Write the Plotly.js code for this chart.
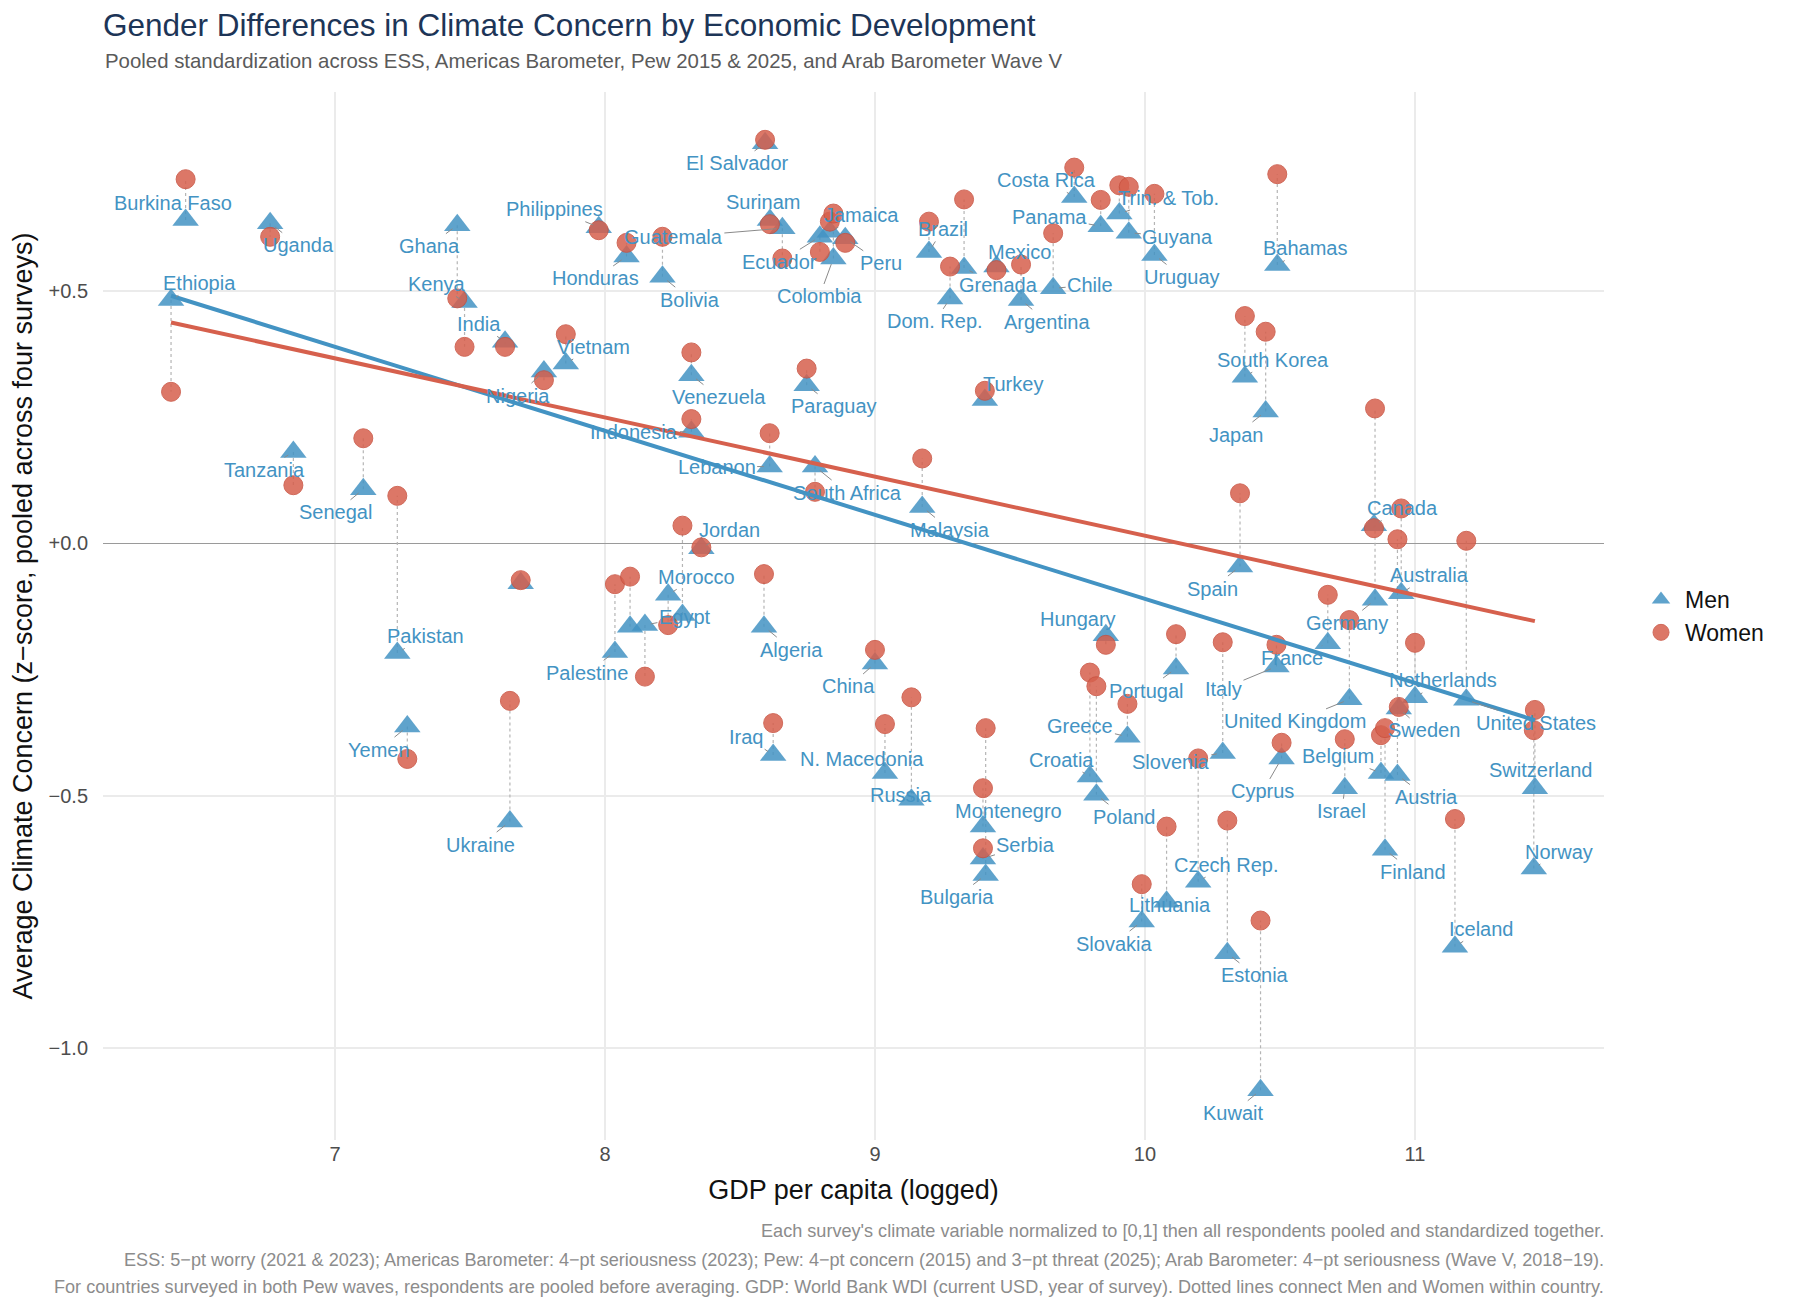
<!DOCTYPE html>
<html>
<head>
<meta charset="utf-8">
<script src="https://cdn.plot.ly/plotly-3.0.1.min.js"></script>
<style>
  html, body { margin: 0; padding: 0; background: #fff; }
  #chart { width: 1800px; height: 1309px; }
</style>
</head>
<body>
<div id="chart"></div>
<script>
// one entry per country: logged GDP per capita, pooled z-score for men and women
const countries = [
  "Ethiopia", "Burkina Faso", "Uganda", "Tanzania", "Senegal", "Pakistan", "Yemen", "Ghana",
  "Kenya", "India", "Ukraine", "Mauritania", "Nigeria", "Vietnam", "Philippines", "Palestine",
  "Honduras", "Tunisia", "Egypt", "Bolivia", "Morocco", "Libya", "Indonesia", "Venezuela",
  "Jordan", "Algeria", "El Salvador", "Lebanon", "Surinam", "Iraq", "Guatemala", "Paraguay",
  "South Africa", "Ecuador", "Jamaica", "Colombia", "Peru", "China", "N. Macedonia", "Russia",
  "Malaysia", "Brazil", "Dom. Rep.", "Grenada", "Montenegro", "Serbia", "Bulgaria", "Turkey",
  "Mexico", "Argentina", "Chile", "Costa Rica", "Croatia", "Poland", "Panama", "Hungary",
  "Trin. & Tob.", "Greece", "Guyana", "Slovakia", "Uruguay", "Lithuania", "Portugal", "Czech Rep.",
  "Slovenia", "Estonia", "Spain", "South Korea", "Kuwait", "Japan", "Italy", "Bahamas",
  "Cyprus", "France", "Israel", "United Kingdom", "Canada", "Germany", "Belgium", "Finland",
  "Sweden", "Austria", "Australia", "Netherlands", "Iceland", "United States", "Switzerland", "Norway",
];
const gdp = [
  6.393, 6.447, 6.760, 6.846, 7.105, 7.231, 7.268, 7.453,
  7.480, 7.630, 7.648, 7.688, 7.774, 7.855, 7.977, 8.037,
  8.080, 8.093, 8.148, 8.213, 8.234, 8.287, 8.320, 8.320,
  8.357, 8.589, 8.593, 8.610, 8.611, 8.623, 8.657, 8.747,
  8.778, 8.796, 8.833, 8.846, 8.890, 9.000, 9.037, 9.135,
  9.175, 9.200, 9.278, 9.330, 9.400, 9.400, 9.410, 9.407,
  9.450, 9.541, 9.660, 9.738, 9.796, 9.820, 9.836, 9.855,
  9.905, 9.935, 9.940, 9.988, 10.035, 10.080, 10.115, 10.197,
  10.288, 10.305, 10.352, 10.370, 10.428, 10.447, 10.487, 10.490,
  10.506, 10.677, 10.740, 10.757, 10.848, 10.852, 10.874, 10.889,
  10.940, 10.935, 10.949, 11.000, 11.148, 11.190, 11.444, 11.440,
];
const menScore = [
  0.482, 0.640, 0.634, 0.181, 0.107, -0.217, -0.363, 0.630,
  0.478, 0.399, -0.551, -0.079, 0.340, 0.356, 0.626, -0.215,
  0.568, -0.165, -0.162, 0.528, -0.102, -0.142, 0.221, 0.333,
  -0.010, -0.165, 0.792, 0.152, 0.640, -0.419, 0.624, 0.313,
  0.152, 0.607, 0.617, 0.564, 0.604, -0.238, -0.455, -0.508,
  0.072, 0.577, 0.485, 0.545, -0.561, -0.624, -0.657, 0.284,
  0.548, 0.482, 0.505, 0.686, -0.462, -0.498, 0.628, -0.182,
  0.653, -0.383, 0.615, -0.749, 0.571, -0.710, -0.248, -0.670,
  -0.415, -0.812, -0.046, 0.330, -1.083, 0.261, -0.244, 0.551,
  -0.426, -0.198, -0.485, -0.309, 0.036, -0.112, -0.455, -0.607,
  -0.327, -0.459, -0.099, -0.305, -0.799, -0.310, -0.485, -0.644,
];
const womenScore = [
  0.300, 0.721, 0.607, 0.115, 0.208, 0.094, -0.427, 0.485,
  0.389, 0.389, -0.312, -0.073, 0.323, 0.414, 0.620, -0.081,
  0.595, -0.066, -0.264, 0.607, -0.162, 0.035, 0.246, 0.378,
  -0.008, -0.061, 0.799, 0.218, 0.632, -0.356, 0.564, 0.346,
  0.102, 0.577, 0.637, 0.653, 0.595, -0.211, -0.358, -0.305,
  0.168, 0.637, 0.548, 0.681, -0.485, -0.604, -0.366, 0.302,
  0.541, 0.552, 0.614, 0.744, -0.256, -0.283, 0.680, -0.201,
  0.709, -0.318, 0.706, -0.675, 0.692, -0.561, -0.180, -0.426,
  -0.196, -0.549, 0.099, 0.450, -0.747, 0.419, -0.201, 0.731,
  -0.395, -0.102, -0.388, -0.152, 0.030, 0.267, -0.380, -0.366,
  -0.324, 0.008, 0.069, -0.197, -0.546, 0.005, -0.330, -0.370,
];

const yTickVals = [-1, -0.5, 0, 0.5];
const yTickText = ["\u22121.0", "\u22120.5", "+0.0", "+0.5"];
const xTickVals = [7, 8, 9, 10, 11];

const captionLines = [
  "Each survey's climate variable normalized to [0,1] then all respondents pooled and standardized together.",
  "ESS: 5\u2212pt worry (2021 & 2023); Americas Barometer: 4\u2212pt seriousness (2023); Pew: 4\u2212pt concern (2015) and 3\u2212pt threat (2025); Arab Barometer: 4\u2212pt seriousness (Wave V, 2018\u221219).",
  "For countries surveyed in both Pew waves, respondents are pooled before averaging. GDP: World Bank WDI (current USD, year of survey). Dotted lines connect Men and Women within country.",
];

// repel-style label placement, pixel offset of the label centre from the men marker
const labelOffsets = {
  "Ethiopia": [28, -17], "Burkina Faso": [-13, -17], "Uganda": [28, 22], "Ghana": [-28, 21],
  "Kenya": [-28, -18], "India": [-26, -18], "Tanzania": [-29, 18], "El Salvador": [-28, 20],
  "Philippines": [-44, -18], "Honduras": [-31, 22], "Bolivia": [28, 23], "Guatemala": [-109, 9],
  "Surinam": [-7, -18], "Ecuador": [-40, 25], "Colombia": [-14, 38], "Jamaica": [32, -17],
  "Peru": [36, 25], "Nigeria": [-26, 24], "Vietnam": [28, -17], "Venezuela": [28, 22],
  "Paraguay": [27, 21], "Indonesia": [-57, 0], "Lebanon": [-53, 0], "South Africa": [32, 26],
  "Brazil": [14, -23], "Mexico": [23, -15], "Grenada": [34, 17], "Dom. Rep.": [-15, 23],
  "Argentina": [26, 22], "Chile": [37, -3], "Costa Rica": [-28, -17], "Panama": [-51, -9],
  "Trin. & Tob.": [49, -16], "Guyana": [49, 4], "Uruguay": [28, 22], "Turkey": [28, -16],
  "Bahamas": [28, -17], "South Korea": [28, -17], "Japan": [-29, 23], "Senegal": [-28, 23],
  "Pakistan": [28, -17], "Yemen": [-28, 23], "Ukraine": [-29, 23], "Jordan": [28, -18],
  "Morocco": [28, -18], "Egypt": [40, -8], "Palestine": [-28, 21], "Algeria": [28, 23],
  "Iraq": [-27, -18], "N. Macedonia": [-23, -14], "China": [-26, 23], "Malaysia": [28, 23],
  "Russia": [-10, -5], "Montenegro": [26, -16], "Hungary": [-28, -16], "Croatia": [-28, -17],
  "Poland": [28, 22], "Portugal": [-30, 22], "Greece": [-47, -11], "Slovenia": [-52, 9],
  "Spain": [-28, 22], "Italy": [-53, 22], "United Kingdom": [-54, 22], "Canada": [29, -17],
  "Australia": [28, -18], "Germany": [-28, 23], "France": [-36, 15], "Netherlands": [28, -17],
  "United States": [70, 23], "Sweden": [25, 22], "Belgium": [-43, -17], "Cyprus": [-19, 33],
  "Israel": [-3, 23], "Austria": [29, 22], "Switzerland": [6, -18], "Norway": [25, -17],
  "Serbia": [43, -13], "Bulgaria": [-29, 22], "Czech Rep.": [28, -17], "Lithuania": [3, 3],
  "Slovakia": [-28, 22], "Estonia": [28, 22], "Kuwait": [-28, 23], "Finland": [28, 22],
  "Iceland": [27, -18],
};

const MEN = "#4393C3";
const WOMEN = "#D6604D";
const FONT = "'Liberation Sans', Arial, Helvetica, sans-serif";

function fitLine(xs, ys) {
  const n = xs.length;
  const mx = xs.reduce((a, b) => a + b, 0) / n;
  const my = ys.reduce((a, b) => a + b, 0) / n;
  let sxy = 0;
  let sxx = 0;
  xs.forEach((x, i) => {
    sxy += (x - mx) * (ys[i] - my);
    sxx += (x - mx) * (x - mx);
  });
  const slope = sxy / sxx;
  const x0 = Math.min(...xs);
  const x1 = Math.max(...xs);
  return { x: [x0, x1], y: [my + slope * (x0 - mx), my + slope * (x1 - mx)] };
}

const pairX = [];
const pairY = [];
gdp.forEach((g, i) => {
  pairX.push(g, g, null);
  pairY.push(menScore[i], womenScore[i], null);
});

const menFit = fitLine(gdp, menScore);
const womenFit = fitLine(gdp, womenScore);

const traces = [
  {
    x: pairX, y: pairY, mode: "lines", type: "scatter", showlegend: false, hoverinfo: "skip",
    line: { color: "#b5b5b5", width: 1.2, dash: "dot" },
  },
  {
    x: gdp, y: menScore, text: countries, mode: "markers", type: "scatter", name: "Men",
    marker: { symbol: "triangle-up", size: 23, color: MEN, opacity: 0.85, line: { width: 0 } },
  },
  {
    x: gdp, y: womenScore, text: countries, mode: "markers", type: "scatter", name: "Women",
    marker: { symbol: "circle", size: 19, color: WOMEN, opacity: 0.85, line: { width: 1, color: "#c9503e" } },
  },
  {
    x: menFit.x, y: menFit.y, mode: "lines", type: "scatter", showlegend: false, hoverinfo: "skip",
    line: { color: MEN, width: 4 },
  },
  {
    x: womenFit.x, y: womenFit.y, mode: "lines", type: "scatter", showlegend: false, hoverinfo: "skip",
    line: { color: WOMEN, width: 4 },
  },
];

const annotations = [];
countries.forEach((name, i) => {
  const off = labelOffsets[name];
  if (!off) return;
  const near = Math.abs(off[0]) < 20 && Math.abs(off[1]) < 13;
  const ann = {
    x: gdp[i], y: menScore[i], text: name,
    font: { family: FONT, size: 20, color: MEN },
  };
  if (near) {
    Object.assign(ann, { showarrow: false, xshift: off[0], yshift: -off[1] });
  } else {
    Object.assign(ann, {
      showarrow: true, ax: off[0], ay: off[1], arrowhead: 0, arrowwidth: 1,
      arrowcolor: "#8a8a8a", standoff: 6,
    });
  }
  annotations.push(ann);
});

annotations.push({
  xref: "paper", yref: "paper", x: 0, y: 1.0296, xanchor: "left", yanchor: "middle",
  showarrow: false, text: "Pooled standardization across ESS, Americas Barometer, Pew 2015 & 2025, and Arab Barometer Wave V",
  font: { family: FONT, size: 20.4, color: "#5a5a5a" },
});

const captionY = [-0.0866, -0.1143, -0.140];
captionLines.forEach((line, i) => {
  annotations.push({
    xref: "paper", yref: "paper", x: 1.0014, y: captionY[i], xanchor: "right", yanchor: "middle",
    showarrow: false, text: line, font: { family: FONT, size: 18.1, color: "#8c8c8c" },
  });
});

const layout = {
  width: 1800,
  height: 1309,
  margin: { l: 103, r: 196, t: 92, b: 169 },
  paper_bgcolor: "#ffffff",
  plot_bgcolor: "#ffffff",
  font: { family: FONT, color: "#222222" },
  title: {
    text: "Gender Differences in Climate Concern by Economic Development",
    x: 103 / 1800, xref: "container", xanchor: "left",
    y: 1 - 25 / 1309, yref: "container", yanchor: "middle",
    font: { family: FONT, size: 31.5, color: "#1D3557" },
  },
  xaxis: {
    range: [6.141, 11.70],
    tickvals: xTickVals,
    ticks: "",
    tickfont: { family: FONT, size: 20, color: "#4d4d4d" },
    showgrid: true, gridcolor: "#ebebeb", gridwidth: 2,
    zeroline: false, showline: false,
    title: { text: "GDP per capita (logged)", standoff: 16, font: { family: FONT, size: 27, color: "#111111" } },
  },
  yaxis: {
    range: [-1.1816, 0.8937],
    tickvals: yTickVals, ticktext: yTickText,
    ticks: "outside", ticklen: 10, tickcolor: "rgba(0,0,0,0)",
    tickfont: { family: FONT, size: 20, color: "#4d4d4d" },
    showgrid: true, gridcolor: "#ebebeb", gridwidth: 2,
    zeroline: true, zerolinecolor: "#9a9a9a", zerolinewidth: 1.2,
    showline: false,
    title: { text: "Average Climate Concern (z\u2212score, pooled across four surveys)", standoff: 8, font: { family: FONT, size: 27, color: "#111111" } },
  },
  legend: {
    x: 1.022, xanchor: "left", y: 0.5, yanchor: "middle",
    font: { family: FONT, size: 23, color: "#111111" },
    bgcolor: "rgba(0,0,0,0)", itemwidth: 38,
  },
  annotations,
  showlegend: true,
};

Plotly.newPlot("chart", traces, layout, { displayModeBar: false, responsive: false, staticPlot: true });
</script>
</body>
</html>
